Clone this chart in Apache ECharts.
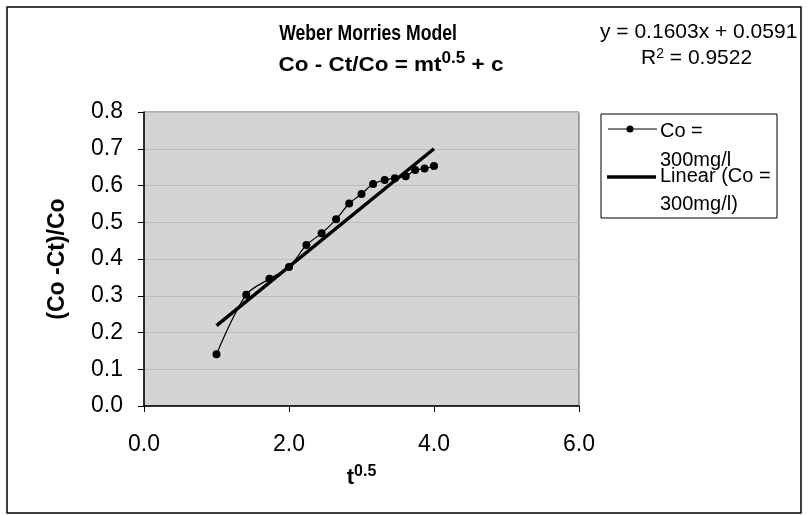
<!DOCTYPE html>
<html>
<head>
<meta charset="utf-8">
<script src="https://cdn.jsdelivr.net/npm/echarts@6/dist/echarts.min.js"></script>
<style>
  html, body { margin: 0; padding: 0; background: #fff; }
  #chart { width: 812px; height: 516px; }
</style>
</head>
<body>
<div id="chart"></div>
<script>
// t^0.5 values
var tHalf = [1.0, 1.41, 1.73, 2.0, 2.24, 2.45, 2.65, 2.83, 3.0, 3.16, 3.32, 3.46, 3.61, 3.74, 3.87, 4.0];
// (Co - Ct)/Co for Co = 300mg/l
var removal = [0.141, 0.303, 0.346, 0.378, 0.438, 0.470, 0.508, 0.551, 0.577, 0.604, 0.615, 0.620, 0.625, 0.642, 0.646, 0.653];
// linear trendline ends (y = 0.1603x + 0.0591)
var trendX = [1.0, 4.0];
var trendY = [0.219, 0.700];

var font = 'Liberation Sans, Arial, sans-serif';

var chart = echarts.init(document.getElementById('chart'));

var option = {
    animation: false,
    backgroundColor: '#fff',
    grid: {
        left: 144,
        right: 233,
        top: 112,
        bottom: 110,
        show: true,
        backgroundColor: '#d4d4d4',
        borderColor: '#606060',
        borderWidth: 1
    },
    xAxis: {
        type: 'value',
        min: 0,
        max: 6,
        interval: 2,
        name: '{t|t}{s|0.5}',
        nameLocation: 'middle',
        nameGap: 58,
        nameTextStyle: {
            rich: {
                t: { fontFamily: font, fontSize: 22, fontWeight: 'bold', color: '#000' },
                s: { fontFamily: font, fontSize: 16, fontWeight: 'bold', color: '#000', verticalAlign: 'top', padding: [0, 0, 12, 0] }
            }
        },
        axisLine: { lineStyle: { color: '#000', width: 1.5 } },
        axisTick: { lineStyle: { color: '#000' }, length: 6 },
        axisLabel: {
            fontFamily: font, fontSize: 23, color: '#000', margin: 27,
            formatter: function (v) { return v.toFixed(1); }
        },
        splitLine: { show: false }
    },
    yAxis: {
        type: 'value',
        min: 0,
        max: 0.8,
        interval: 0.1,
        name: '(Co -Ct)/Co',
        nameLocation: 'middle',
        nameGap: 75,
        nameTextStyle: { fontFamily: font, fontSize: 23, fontWeight: 'bold', color: '#000' },
        axisLine: { show: true, lineStyle: { color: '#000', width: 1.5 } },
        axisTick: { show: true, lineStyle: { color: '#000' }, length: 6 },
        axisLabel: {
            fontFamily: font, fontSize: 23, color: '#000', margin: 21,
            formatter: function (v) { return v.toFixed(1); }
        },
        splitLine: { lineStyle: { color: '#bdbdbd', width: 1 } }
    },
    series: [
        {
            name: 'Co = 300mg/l',
            type: 'line',
            data: tHalf.map(function (x, i) { return [x, removal[i]]; }),
            smooth: 0.3,
            symbol: 'circle',
            symbolSize: 8,
            itemStyle: { color: '#000' },
            lineStyle: { color: '#000', width: 1.2 },
            z: 3
        },
        {
            name: 'Linear (Co = 300mg/l)',
            type: 'line',
            data: trendX.map(function (x, i) { return [x, trendY[i]]; }),
            symbol: 'none',
            lineStyle: { color: '#000', width: 3.5 },
            z: 2
        }
    ],
    graphic: [
        // outer chart frame
        { type: 'rect', shape: { x: 7, y: 7, width: 794, height: 506 }, style: { fill: null, stroke: '#000', lineWidth: 1.5 }, silent: true },
        // title, two lines
        {
            type: 'text', x: 368, y: 34, scaleX: 0.8,
            style: {
                text: '{n|Weber Morries Model}',
                align: 'center', verticalAlign: 'middle',
                rich: { n: { fontFamily: font, fontSize: 22, fontWeight: 'bold', color: '#000' } }
            }
        },
        {
            type: 'text', x: 391, y: 65, scaleX: 1.07,
            style: {
                text: '{n|Co - Ct/Co = mt}{s|0.5}{n| + c}',
                align: 'center', verticalAlign: 'middle',
                rich: {
                    n: { fontFamily: font, fontSize: 21, fontWeight: 'bold', color: '#000' },
                    s: { fontFamily: font, fontSize: 16, fontWeight: 'bold', color: '#000', verticalAlign: 'top', padding: [0, 0, 12, 0] }
                }
            }
        },
        // trendline equation
        { type: 'text', x: 600, y: 32, style: { text: 'y = 0.1603x + 0.0591', font: '21px ' + font, fill: '#000', verticalAlign: 'middle' } },
        {
            type: 'text', x: 641, y: 58,
            style: {
                text: '{n|R}{s|2}{n| = 0.9522}',
                verticalAlign: 'middle',
                rich: {
                    n: { fontFamily: font, fontSize: 21, color: '#000' },
                    s: { fontFamily: font, fontSize: 14, color: '#000', verticalAlign: 'top', padding: [0, 0, 8, 0] }
                }
            }
        },
        // legend box
        { type: 'rect', shape: { x: 601, y: 114, width: 176, height: 104 }, style: { fill: '#fff', stroke: '#000', lineWidth: 1 } },
        { type: 'line', shape: { x1: 608, y1: 129, x2: 657, y2: 129 }, style: { stroke: '#000', lineWidth: 1.2 } },
        { type: 'circle', shape: { cx: 630, cy: 129, r: 3.5 }, style: { fill: '#000' } },
        { type: 'text', x: 660, y: 131, style: { text: 'Co =', font: '20px ' + font, fill: '#000', verticalAlign: 'middle' } },
        { type: 'text', x: 660, y: 160, style: { text: '300mg/l', font: '20px ' + font, fill: '#000', verticalAlign: 'middle' } },
        { type: 'line', shape: { x1: 607, y1: 177, x2: 656, y2: 177 }, style: { stroke: '#000', lineWidth: 3.5 } },
        { type: 'text', x: 660, y: 176, style: { text: 'Linear (Co =', font: '20px ' + font, fill: '#000', verticalAlign: 'middle' } },
        { type: 'text', x: 660, y: 204, style: { text: '300mg/l)', font: '20px ' + font, fill: '#000', verticalAlign: 'middle' } }
    ]
};

chart.setOption(option);
window.addEventListener('resize', function () {
    chart.resize();
});
</script>
</body>
</html>
